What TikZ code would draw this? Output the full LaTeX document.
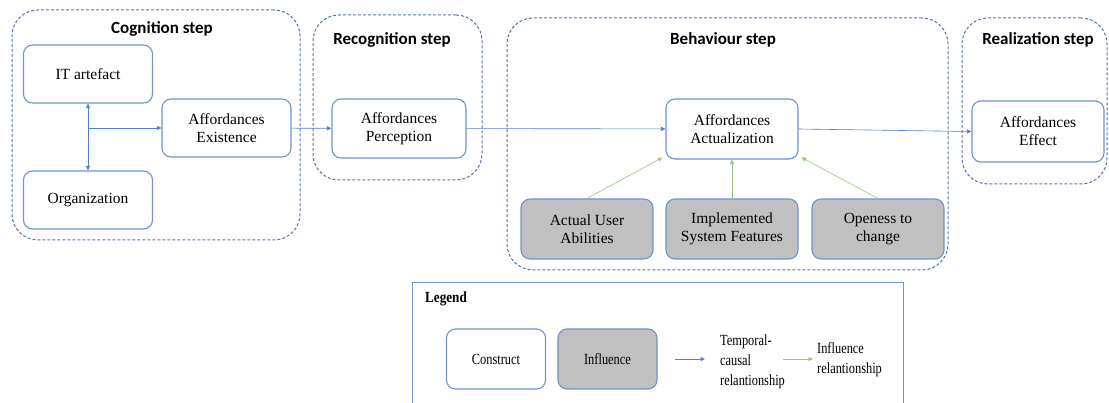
\documentclass[tikz,border=0pt]{standalone}
\usepackage{fontspec}
\usepackage{graphicx}
\setmainfont{Liberation Serif}
\newfontfamily\seriffont{Liberation Serif}
\newfontfamily\titlefont{Carlito}
\usetikzlibrary{arrows.meta,calc}
\definecolor{boxblue}{RGB}{112,146,205}
\definecolor{dashblue}{RGB}{85,115,175}
\definecolor{arrblue}{RGB}{85,125,200}
\definecolor{arrgreen}{RGB}{150,200,120}
\definecolor{infl}{RGB}{192,192,192}
\begin{document}
\begin{tikzpicture}[x=1pt,y=-1pt,
  construct/.style={draw=boxblue, line width=1.1pt, rounded corners=9pt, fill=white,
    minimum width=131pt, minimum height=59pt, align=center, inner sep=0pt,
    font=\seriffont\fontsize{15.5}{18}\selectfont},
  influence/.style={construct, fill=infl},
  stepbox/.style={draw=dashblue, dash pattern=on 3pt off 2pt, line width=1pt,
    rounded corners=26pt, inner sep=0pt},
  steptitle/.style={font=\titlefont\bfseries\fontsize{17}{20}\selectfont},
  tc/.style={draw=arrblue, line width=0.6pt, -{Triangle[length=4.5pt,width=4pt]}},
  tcboth/.style={draw=arrblue, line width=0.6pt, {Triangle[length=4.5pt,width=4pt]}-{Triangle[length=4.5pt,width=4pt]}},
  inf/.style={draw=arrgreen, line width=0.6pt, -{Triangle[length=4.5pt,width=4pt]}},
  legtext/.style={align=left, anchor=west, inner sep=0pt, xscale=0.8,
    font=\seriffont\fontsize{15.5}{20}\selectfont}]
\useasboundingbox (0,0) rectangle (1109,403);

% step containers
\node[stepbox, minimum width=288pt, minimum height=230pt] (cog) at (156,125) {};
\node[stepbox, minimum width=169pt, minimum height=165pt] (rec) at (397.5,97.5) {};
\node[stepbox, minimum width=441pt, minimum height=252pt] (beh) at (727.5,144) {};
\node[stepbox, minimum width=145pt, minimum height=166pt] (rea) at (1034.5,101) {};

\node[steptitle] (cogt) at (162,29) {Cognition step};
\node[steptitle] (rect) at (392,40) {Recognition step};
\node[steptitle] (beht) at (723,40) {Behaviour step};
\node[steptitle] (reat) at (1038,40) {Realization step};

% constructs
\node[construct, minimum width=129pt, minimum height=58pt] (it) at (88,74) {IT artefact};
\node[construct, minimum width=129pt, minimum height=58pt] (org) at (88,200) {Organization};
\node[construct, minimum width=129pt, minimum height=58pt] (ex) at (226.5,128) {Affordances\\Existence};
\node[construct, minimum width=134pt] (per) at (399,128.5) {Affordances\\Perception};
\node[construct, minimum width=132pt, minimum height=60pt] (act) at (732,129) {Affordances\\Actualization};
\node[construct, minimum width=132pt, minimum height=61pt] (eff) at (1038,131.5) {Affordances\\Effect};

% influences
\node[influence, minimum width=132pt, minimum height=60pt] (abl) at (587,229) {Actual User\\Abilities};
\node[influence, minimum width=132pt, minimum height=60pt] (feat) at (732,229) {Implemented\\System Features};
\node[influence, minimum width=132pt, minimum height=60pt] (open) at (878,229) {Openess to\\change};

% temporal-causal connectors
\draw[tcboth] (it) -- (org);
\coordinate (split) at (it.south |- ex.west);
\draw[tc] (split) -- (ex.west);
\draw[tc] (ex) -- (per);
\draw[tc] (per) -- (act);
\draw[tc] (act.east) -- (eff.west);

% influence connectors
\draw[inf] (abl.north) -- ([xshift=-3pt,yshift=2pt]act.south west);
\draw[inf] (feat) -- (act);
\draw[inf] (open.north) -- ([xshift=3pt,yshift=2pt]act.south east);

% legend
\node[draw=boxblue, line width=1pt, minimum width=491pt, minimum height=124pt, inner sep=0pt] (leg) at (657.5,345) {};
\node[anchor=west, inner sep=0pt, xscale=0.85, font=\seriffont\bfseries\fontsize{15.5}{18}\selectfont] (legt) at (425,299) {Legend};
\node[construct, minimum width=99pt, minimum height=60pt] (lcon) at (496,359) {\scalebox{0.8}[1]{Construct}};
\node[influence, minimum width=99pt, minimum height=60pt] (linf) at (607.5,359) {\scalebox{0.8}[1]{Influence}};
\coordinate (tcs) at (675,359);
\coordinate (tce) at (705,359);
\draw[tc] (tcs) -- (tce);
\node[legtext] (tct) at (720,362) {Temporal-\\causal\\relantionship};
\coordinate (ins) at (783,359);
\coordinate (ine) at (813,359);
\draw[inf] (ins) -- (ine);
\node[legtext] (int) at (817,360) {Influence\\relantionship};
\end{tikzpicture}
\end{document}
